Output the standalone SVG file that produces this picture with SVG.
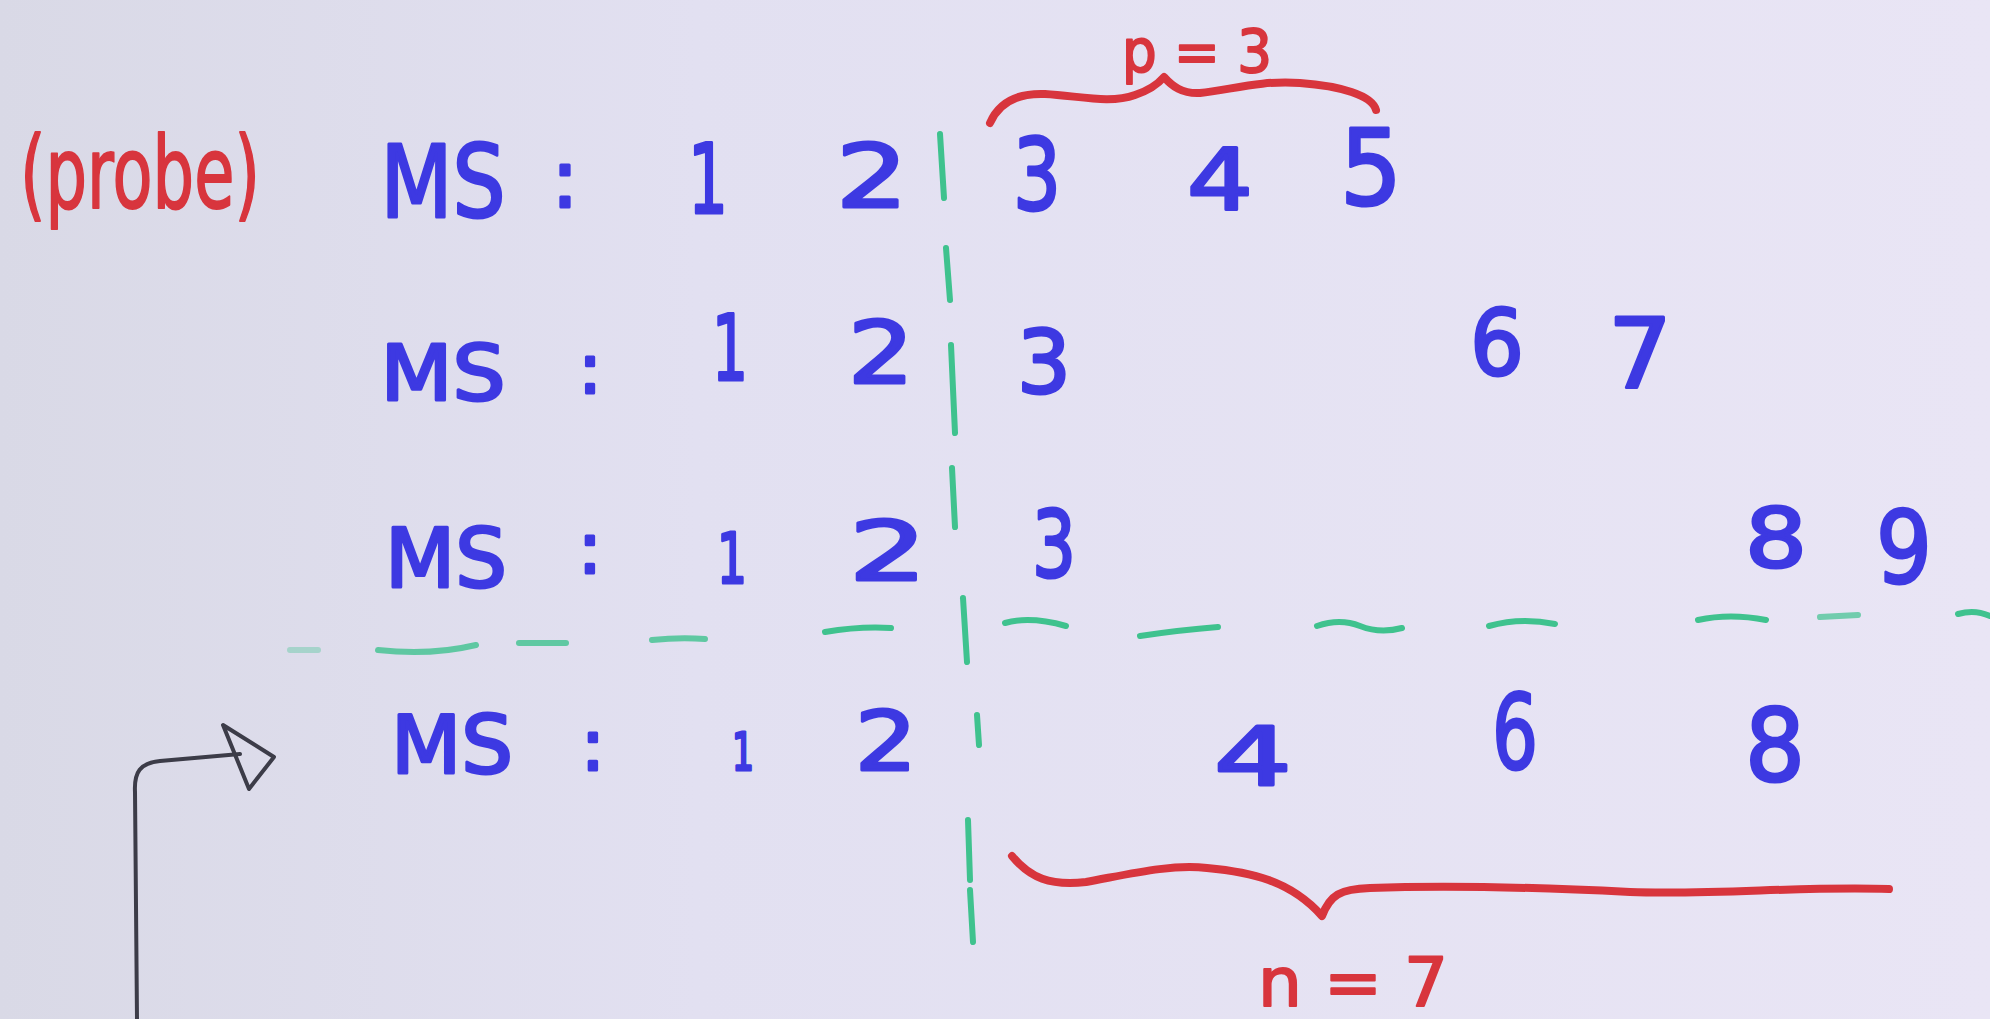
<svg xmlns="http://www.w3.org/2000/svg" width="1990" height="1019" viewBox="0 0 1990 1019">
<defs>
<linearGradient id="bg" x1="0" y1="0" x2="1" y2="0">
<stop offset="0" stop-color="#d9d9e6"/>
<stop offset="0.35" stop-color="#e2e0f1"/>
<stop offset="1" stop-color="#e9e5f5"/>
</linearGradient>
<style>
.b{font-family:"DejaVu Sans",sans-serif;fill:#3d39e2;stroke:#3d39e2;stroke-width:3;stroke-linejoin:round;text-anchor:middle}
.r{font-family:"DejaVu Sans",sans-serif;fill:#d8353d;stroke:#d8353d;stroke-width:2;stroke-linejoin:round;text-anchor:middle}
.g{fill:none;stroke:#3fc28e;stroke-width:6;stroke-linecap:round}
.rb{fill:none;stroke:#d8353d;stroke-width:8;stroke-linecap:round;stroke-linejoin:round}
.k{fill:none;stroke:#3c3c48;stroke-width:4;stroke-linecap:round;stroke-linejoin:round}
</style>
</defs>
<rect width="1990" height="1019" fill="url(#bg)"/>

<g id="label-probe">
<text class="r" x="140" y="208" font-size="100" textLength="240" lengthAdjust="spacingAndGlyphs">(probe)</text>
</g>

<g id="row1">
<text class="b" x="443" y="217" font-size="100" textLength="125" lengthAdjust="spacingAndGlyphs">MS</text>
<text class="b" x="565" y="207" font-size="80">:</text>
<text class="b" x="708" y="213" font-size="96" textLength="40" lengthAdjust="spacingAndGlyphs">1</text>
<text class="b" x="872" y="207" font-size="88" textLength="72" lengthAdjust="spacingAndGlyphs">2</text>
<text class="b" x="1037" y="210" font-size="100" textLength="48" lengthAdjust="spacingAndGlyphs">3</text>
<text class="b" x="1220" y="210" font-size="86" textLength="66" lengthAdjust="spacingAndGlyphs">4</text>
<text class="b" x="1371" y="205" font-size="105" textLength="62" lengthAdjust="spacingAndGlyphs">5</text>
</g>

<g id="row2">
<text class="b" x="443" y="400" font-size="76" textLength="125" lengthAdjust="spacingAndGlyphs">MS</text>
<text class="b" x="590" y="393" font-size="70">:</text>
<text class="b" x="730" y="380" font-size="90" textLength="36" lengthAdjust="spacingAndGlyphs">1</text>
<text class="b" x="881" y="383" font-size="86" textLength="66" lengthAdjust="spacingAndGlyphs">2</text>
<text class="b" x="1044" y="393" font-size="88" textLength="54" lengthAdjust="spacingAndGlyphs">3</text>
<text class="b" x="1497" y="375" font-size="90" textLength="54" lengthAdjust="spacingAndGlyphs">6</text>
<text class="b" x="1640" y="387" font-size="96" textLength="64" lengthAdjust="spacingAndGlyphs">7</text>
</g>

<g id="row3">
<text class="b" x="446" y="587" font-size="82" textLength="122" lengthAdjust="spacingAndGlyphs">MS</text>
<text class="b" x="590" y="573" font-size="72">:</text>
<text class="b" x="732" y="583" font-size="69" textLength="30" lengthAdjust="spacingAndGlyphs">1</text>
<text class="b" x="888" y="580" font-size="82" textLength="78" lengthAdjust="spacingAndGlyphs">2</text>
<text class="b" x="1054" y="577" font-size="92" textLength="44" lengthAdjust="spacingAndGlyphs">3</text>
<text class="b" x="1776" y="567" font-size="82" textLength="62" lengthAdjust="spacingAndGlyphs">8</text>
<text class="b" x="1904" y="583" font-size="100" textLength="56" lengthAdjust="spacingAndGlyphs">9</text>
</g>

<g id="row4">
<text class="b" x="452" y="773" font-size="80" textLength="122" lengthAdjust="spacingAndGlyphs">MS</text>
<text class="b" x="593" y="770" font-size="72">:</text>
<text class="b" x="743" y="770" font-size="51" textLength="22" lengthAdjust="spacingAndGlyphs">1</text>
<text class="b" x="886" y="770" font-size="82" textLength="62" lengthAdjust="spacingAndGlyphs">2</text>
<text class="b" x="1253" y="785" font-size="80" textLength="78" lengthAdjust="spacingAndGlyphs">4</text>
<text class="b" x="1515" y="769" font-size="104" textLength="46" lengthAdjust="spacingAndGlyphs">6</text>
<text class="b" x="1775" y="781" font-size="100" textLength="60" lengthAdjust="spacingAndGlyphs">8</text>
</g>

<g id="label-p">
<text class="r" x="1197" y="72" font-size="58" textLength="150" lengthAdjust="spacingAndGlyphs">p = 3</text>
</g>
<g id="label-n">
<text class="r" x="1353" y="1006" font-size="68" textLength="190" lengthAdjust="spacingAndGlyphs">n = 7</text>
</g>

<g id="connectors">
<g id="divider-vertical">
<path class="g" d="M940 134 L944 198"/>
<path class="g" d="M946 248 L950 300"/>
<path class="g" d="M951 345 L955 433"/>
<path class="g" d="M952 468 L955 527"/>
<path class="g" d="M963 598 L967 662"/>
<path class="g" d="M977 715 L979 745"/>
<path class="g" d="M968 820 L970 880"/>
<path class="g" d="M970 890 L973 942"/>
</g>
<g id="divider-horizontal">
<path class="g" d="M290 650 L318 650" opacity="0.35"/>
<path class="g" d="M378 650 Q430 656 476 645" opacity="0.8"/>
<path class="g" d="M519 643 L566 643" opacity="0.8"/>
<path class="g" d="M652 640 Q680 637 705 639" opacity="0.8"/>
<path class="g" d="M825 632 Q860 626 891 628"/>
<path class="g" d="M1005 623 Q1030 616 1066 626"/>
<path class="g" d="M1140 636 Q1180 630 1218 627"/>
<path class="g" d="M1317 626 Q1340 618 1360 626 T1402 628"/>
<path class="g" d="M1489 626 Q1520 617 1555 624"/>
<path class="g" d="M1698 620 Q1730 613 1766 620"/>
<path class="g" d="M1820 617 L1858 615" opacity="0.7"/>
<path class="g" d="M1958 614 Q1975 609 1990 616"/>
</g>
<path id="brace-p" class="rb" d="M990 123 C1000 100 1020 93 1045 94 C1080 96 1110 104 1135 95 C1150 90 1158 84 1164 77 C1172 86 1182 94 1200 93 C1230 90 1260 80 1300 83 C1340 86 1372 95 1376 110"/>
<path id="brace-n" class="rb" d="M1012 856 C1030 878 1050 886 1086 882 C1130 874 1170 864 1207 868 C1250 872 1290 880 1322 916 C1330 895 1340 889 1370 888 C1450 885 1550 888 1630 892 C1720 895 1800 886 1889 889"/>
<g id="arrow">
<path class="k" d="M137 1019 L135 792 C134 772 140 763 160 761 L240 754"/>
<path class="k" d="M223 725 L274 757 L249 789 Z"/>
</g>
</g>
</svg>
